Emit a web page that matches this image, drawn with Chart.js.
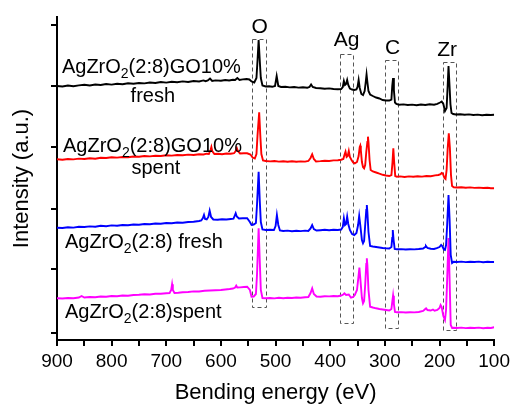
<!DOCTYPE html>
<html>
<head>
<meta charset="utf-8">
<script src="https://cdn.jsdelivr.net/npm/chart.js@4.4.1/dist/chart.umd.min.js"></script>
<style>
  html, body { margin: 0; padding: 0; background: #fff; }
</style>
</head>
<body>
<canvas id="xps" width="514" height="405"></canvas>
<script>
// XPS survey spectra, binding energy (eV) vs. intensity (arbitrary, offset)
const blackEnergy = [900, 890, 880, 870, 860, 850, 840, 830, 820, 810, 800, 790, 780, 770, 760, 750, 740, 730, 720, 710, 700, 690, 680, 670, 660, 650, 640, 632, 628, 624, 620, 616, 610, 600, 592, 585, 578, 574, 570, 566, 560, 553, 548, 544, 539, 535, 533, 531, 529, 527, 524, 518, 512, 506, 501, 498, 495, 490, 482, 474, 466, 458, 450, 442, 438, 435, 432, 426, 418, 410, 402, 394, 386, 380, 377, 375, 373, 371, 369, 367, 364, 360, 356, 352, 350, 348, 346, 343, 340, 337, 335, 333.5, 332, 330, 327, 322, 316, 310, 304, 298, 292, 288, 286.5, 285, 283.5, 281.5, 279, 274, 266, 258, 250, 242, 234, 226, 218, 210, 204, 199, 196, 193, 190, 187, 185, 183.5, 182, 180, 178, 175, 170, 162, 154, 146, 138, 130, 122, 114, 106, 100];
const blackValues = [254, 253.5, 254.5, 253.8, 254.6, 255.2, 254.5, 255.5, 255, 256, 255.4, 256.3, 255.8, 256.8, 256.2, 257, 256.6, 257.5, 257, 258, 257.4, 258.2, 257.8, 258.6, 258, 259, 258.5, 259.6, 258.8, 259.5, 261.5, 259, 259.6, 259.2, 260, 259.5, 260.2, 260, 262, 260, 260.6, 261, 260.5, 258.5, 257.5, 262, 280, 300, 280, 262, 254.5, 253.5, 253.8, 253.2, 254, 264, 254, 253, 253.3, 252.6, 253, 252.4, 252.8, 252.2, 253, 255.5, 253, 252, 251.8, 251.3, 251.6, 251, 250.8, 251, 253, 259, 255, 256, 260, 255, 251.5, 250.5, 250, 250.5, 253, 260, 252, 246, 245, 249, 258, 265.5, 258, 249, 245.5, 244, 242.5, 241.5, 240, 239.5, 239.5, 240.5, 254, 262, 250, 237.5, 236, 235.3, 235.6, 235, 235.4, 234.8, 235.5, 235, 235.8, 235.3, 236.2, 237.5, 238.5, 236, 229, 232, 255, 274, 258, 236, 227, 226, 225.5, 225.8, 225.2, 225.6, 225, 225.4, 224.8, 225.3, 225, 225.2];

const redEnergy = [900, 890, 880, 870, 860, 850, 840, 830, 820, 810, 800, 790, 780, 770, 760, 750, 740, 730, 720, 710, 700, 690, 680, 670, 660, 650, 640, 632, 626, 622, 619, 617.5, 616, 612, 605, 598, 590, 582, 576, 573, 571, 569, 565, 558, 552, 546, 542, 538, 535, 533, 530, 528, 526, 523, 518, 510, 502, 494, 486, 478, 470, 462, 454, 446, 440, 436, 433, 430, 426, 418, 410, 402, 394, 386, 380, 376, 374, 372, 370, 368, 366, 364, 361, 358, 355, 351, 348, 346, 345, 344, 342, 340, 338, 336, 334, 332, 331, 330, 328, 326, 322, 316, 310, 304, 298, 292, 288, 286, 284.5, 283, 281, 278, 272, 264, 256, 248, 240, 232, 224, 216, 208, 202, 198, 196, 194, 191, 189, 187, 185, 183, 181, 179, 177, 174, 168, 160, 152, 144, 136, 128, 120, 112, 106, 100];
const redValues = [180.7, 180.3, 181, 180.6, 181.4, 181, 181.8, 181.3, 182.2, 182, 182.8, 182.4, 183, 182.7, 183.5, 183.2, 184, 183.6, 184.3, 184, 184.8, 184.4, 185, 184.7, 185.4, 185, 185.8, 185.5, 186.3, 186, 190, 193, 189, 186, 186.3, 185.8, 186.5, 186.2, 186.8, 189, 192, 189, 186.5, 186.8, 186.7, 185.5, 182.5, 181.5, 186, 205, 227.7, 205, 186, 179.5, 179, 178.6, 179, 178.4, 178.8, 178.3, 178.7, 178.2, 178.6, 178.4, 179, 182, 185.7, 181, 178.6, 178.9, 179.3, 179, 179.6, 179.8, 180.3, 181, 185, 188.3, 183, 184, 189, 183, 180, 177.5, 176.7, 178, 184, 193, 194.3, 190, 178, 173, 171.7, 175, 188, 198, 203.3, 198, 180, 170, 168.5, 167.5, 166.3, 165.2, 164.5, 164, 165, 178, 191.7, 178, 164, 163.3, 163.6, 163, 163.6, 163.2, 163.8, 163.4, 164, 163.8, 164.6, 165, 165.8, 167, 166.5, 162, 161, 170, 192, 206.7, 192, 165, 154, 152.7, 152.5, 152.8, 152.3, 152.6, 152.1, 152.4, 152, 152.2, 151.8, 151.7];

const blueEnergy = [900, 890, 880, 870, 860, 850, 840, 830, 820, 810, 800, 790, 780, 770, 760, 750, 740, 730, 720, 710, 700, 690, 680, 670, 660, 650, 640, 636, 633, 631, 629, 626, 623, 620.6, 618, 614, 606, 598, 590, 582, 577, 575, 573, 571, 567, 560, 552, 547, 544, 540, 536, 534, 531, 529, 527, 524, 518, 510, 503, 500, 497.6, 495, 492, 486, 478, 470, 462, 454, 446, 440, 436, 433, 430, 425, 418, 410, 402, 394, 386, 380, 377, 375, 373, 371, 369, 367, 364, 360, 356, 352, 349, 347, 345, 342, 340, 338, 336, 334, 333, 332, 330, 327, 322, 316, 310, 304, 298, 292, 288, 286.5, 285.5, 284, 282, 278, 270, 262, 254, 246, 238, 230, 226, 224.8, 222, 216, 210, 205, 200, 197, 195, 192, 190, 188, 186, 183.5, 181.5, 179.5, 177, 174, 168, 160, 152, 144, 136, 128, 120, 112, 106, 100];
const blueValues = [112.3, 112, 112.8, 112.4, 113.2, 113, 113.6, 113.3, 114.2, 113.8, 114.6, 114.3, 115, 114.7, 115.5, 115.3, 116, 115.7, 116.5, 116.3, 117, 116.7, 117.5, 117.3, 118, 118.2, 119, 119.5, 122, 125, 121, 120.5, 123, 129.3, 123, 120.5, 120.2, 120.8, 120.5, 121, 121.3, 124, 126.7, 123.5, 121.5, 121.8, 121.7, 118, 115, 115.5, 117, 135, 168.3, 140, 118, 110.5, 110, 110.3, 110, 114, 125, 115, 109.5, 109, 109.4, 108.8, 109.2, 108.9, 109.4, 109, 111.5, 115, 111, 109.5, 109.8, 110.2, 109.8, 110.3, 110, 110.5, 113, 121.7, 115, 116, 123.3, 116, 110, 106, 105, 107, 115, 124, 115, 100, 96.7, 99, 115, 130, 135, 128, 108, 94, 93.5, 93, 92.5, 92, 91.7, 91.5, 93, 102, 110, 100, 91, 90.7, 90.9, 90.5, 90.8, 90.6, 91, 91.5, 93, 94, 92, 91.3, 91, 91.8, 93, 95, 94, 90.5, 90, 95, 115, 145, 120, 85, 77, 78.3, 78, 78.4, 77.9, 78.3, 78, 78.4, 77.8, 78.2, 78, 78];

const magentaEnergy = [900, 890, 880, 870, 860, 855, 850, 840, 830, 820, 810, 800, 790, 780, 770, 760, 750, 740, 730, 720, 710, 700, 694, 691, 689.4, 688, 685, 678, 670, 660, 650, 640, 630, 620, 610, 600, 592, 584, 578, 574, 572, 570, 565, 558, 552, 547, 544, 540, 536, 534, 531, 529, 527, 524, 518, 510, 502, 494, 486, 478, 470, 462, 454, 446, 440, 436, 433, 430, 425, 418, 410, 402, 394, 386, 380, 376, 374, 371, 366, 362, 358, 355, 351, 348, 346.6, 345, 342, 340, 338, 336, 334, 333, 332, 330, 327, 322, 316, 310, 304, 298, 292, 288, 286.5, 285, 283.5, 281.5, 278, 270, 262, 254, 246, 238, 230, 226, 224.5, 222, 216, 212, 209, 204, 200, 198, 196, 193, 190, 188, 186, 183.5, 181.5, 179.5, 177, 174, 168, 160, 152, 144, 136, 128, 120, 112, 106, 100];
const magentaValues = [41.7, 41.5, 42, 41.8, 42.5, 44, 42.5, 43, 42.8, 43.5, 43.3, 44, 43.8, 44.5, 44.3, 45, 45.2, 45.8, 45.5, 46.3, 46.2, 46.8, 47, 50, 55.7, 50, 47, 47.3, 47.8, 48, 48.6, 48.5, 49.2, 49.5, 49.8, 50, 50.5, 51, 51.5, 52.5, 54.3, 52.5, 52.6, 53, 53.3, 50, 43.3, 43.5, 46, 65, 111.7, 80, 50, 42, 41.7, 42, 41.6, 42.2, 41.8, 42.3, 42, 42.5, 42.3, 42.8, 43, 47, 51.7, 46, 43.5, 43.3, 43.8, 43.6, 44, 43.8, 44.5, 45.5, 46.7, 45, 45.5, 42.3, 43, 45, 50, 65, 72.3, 62, 42, 36.7, 39, 55, 76, 81.7, 75, 50, 33.3, 32.5, 31.7, 31, 30.5, 30, 29.5, 31, 38, 44.3, 36, 28, 27.7, 27.9, 27.5, 27.8, 27.6, 28, 29, 31, 31.7, 30, 29.5, 30.5, 29.3, 30, 32, 35, 33, 24, 20, 30, 60, 102, 60, 15, 12, 12.3, 12, 12.4, 11.9, 12.3, 12, 12.4, 11.8, 12.2, 12, 12.7];

const seriesColors = ['#000000', '#ff0000', '#0000ff', '#ff00ff'];

// axis ticks
const xTickStep = 50;
const yTicks = [7, 71, 131, 193, 254, 315];

// dashed boxes around the element peaks
const boxNames = ['O', 'Ag', 'C', 'Zr'];
const boxHighE = [543, 383, 299, 193];
const boxLowE = [518, 359, 275, 169];
const boxTop = [301, 286, 280, 278];
const boxBottom = [33, 17, 12, 10];
const boxLabelE = [529, 370, 286, 186];
const boxLabelY = [313, 300, 291.5, 290];

// sample names written next to each curve
const sampleTails = ['(2:8)GO10%', '(2:8)GO10%', '(2:8) fresh', '(2:8)spent'];
const sampleE = [891, 889, 885.5, 885.5];
const sampleY = [267, 188, 91.7, 21.7];
const noteText = ['fresh', 'spent'];
const noteE = [724.6, 719];
const noteY = [238, 166];

const FONT = '"Liberation Sans", Arial, Helvetica, sans-serif';

function toPoints(es, vs) {
  return es.map((e, i) => ({ x: e, y: vs[i] }));
}

function drawFormula(ctx, x, y, tail) {
  ctx.font = '20px ' + FONT;
  ctx.fillText('AgZrO', x, y);
  x += ctx.measureText('AgZrO').width;
  ctx.font = '14px ' + FONT;
  ctx.fillText('2', x, y + 5);
  x += ctx.measureText('2').width;
  ctx.font = '20px ' + FONT;
  ctx.fillText(tail, x, y);
}

const boxPlugin = {
  id: 'peakBoxes',
  beforeDatasetsDraw(chart) {
    const { ctx, scales: { x, y } } = chart;
    ctx.save();
    ctx.strokeStyle = '#555';
    ctx.lineWidth = 1;
    ctx.setLineDash([4, 3]);
    boxNames.forEach((n, i) => {
      const x0 = x.getPixelForValue(boxHighE[i]);
      const x1 = x.getPixelForValue(boxLowE[i]);
      const y0 = y.getPixelForValue(boxTop[i]);
      const y1 = y.getPixelForValue(boxBottom[i]);
      ctx.strokeRect(Math.round(x0) + 0.5, Math.round(y0) + 0.5, Math.round(x1 - x0), Math.round(y1 - y0));
    });
    ctx.restore();
  },
  afterDatasetsDraw(chart) {
    const { ctx, scales: { x, y } } = chart;
    ctx.save();
    ctx.fillStyle = '#000';
    ctx.textAlign = 'center';
    ctx.textBaseline = 'middle';
    ctx.font = '21px ' + FONT;
    boxNames.forEach((n, i) => {
      ctx.fillText(n, x.getPixelForValue(boxLabelE[i]), y.getPixelForValue(boxLabelY[i]));
    });

    ctx.textAlign = 'left';
    ctx.textBaseline = 'alphabetic';
    sampleTails.forEach((t, i) => {
      drawFormula(ctx, x.getPixelForValue(sampleE[i]), y.getPixelForValue(sampleY[i]), t);
    });
    ctx.textAlign = 'center';
    ctx.font = '20px ' + FONT;
    noteText.forEach((t, i) => {
      ctx.fillText(t, x.getPixelForValue(noteE[i]), y.getPixelForValue(noteY[i]));
    });
    ctx.restore();
  }
};

const seriesEnergy = [blackEnergy, redEnergy, blueEnergy, magentaEnergy];
const seriesValues = [blackValues, redValues, blueValues, magentaValues];

new Chart(document.getElementById('xps'), {
  type: 'line',
  data: {
    datasets: seriesEnergy.map((es, i) => ({
      data: toPoints(es, seriesValues[i]),
      borderColor: seriesColors[i],
      borderWidth: 1.9,
      pointRadius: 0,
      tension: 0,
      fill: false
    }))
  },
  options: {
    responsive: false,
    animation: false,
    layout: { padding: { top: 17, right: 19, left: 0, bottom: 0 } },
    plugins: {
      legend: { display: false },
      tooltip: { enabled: false }
    },
    scales: {
      x: {
        type: 'linear',
        reverse: true,
        min: 100,
        max: 900,
        afterFit: s => { s.height = 65; },
        border: { display: true, color: '#000', width: 2 },
        grid: { drawOnChartArea: false, drawTicks: true, tickLength: 6, color: '#000', lineWidth: 2 },
        ticks: {
          stepSize: xTickStep,
          autoSkip: false,
          maxRotation: 0,
          padding: 4,
          color: '#000',
          font: { family: FONT, size: 19 },
          callback: v => (v % 100 === 0 ? v : '')
        },
        title: {
          display: true,
          text: 'Bending energy (eV)',
          color: '#000',
          font: { family: FONT, size: 22, lineHeight: 1 },
          padding: { top: 0, bottom: 1 }
        }
      },
      y: {
        type: 'linear',
        min: 0,
        max: 323,
        afterFit: s => { s.width = 57; },
        afterBuildTicks: s => { s.ticks = yTicks.map(v => ({ value: v })); },
        border: { display: true, color: '#000', width: 2 },
        grid: { drawOnChartArea: false, drawTicks: true, tickLength: 6, color: '#000', lineWidth: 2 },
        ticks: { display: false },
        title: {
          display: true,
          text: 'Intensity (a.u.)',
          color: '#000',
          font: { family: FONT, size: 22 },
          padding: { top: 9, bottom: 0 }
        }
      }
    }
  },
  plugins: [boxPlugin]
});
</script>
</body>
</html>
